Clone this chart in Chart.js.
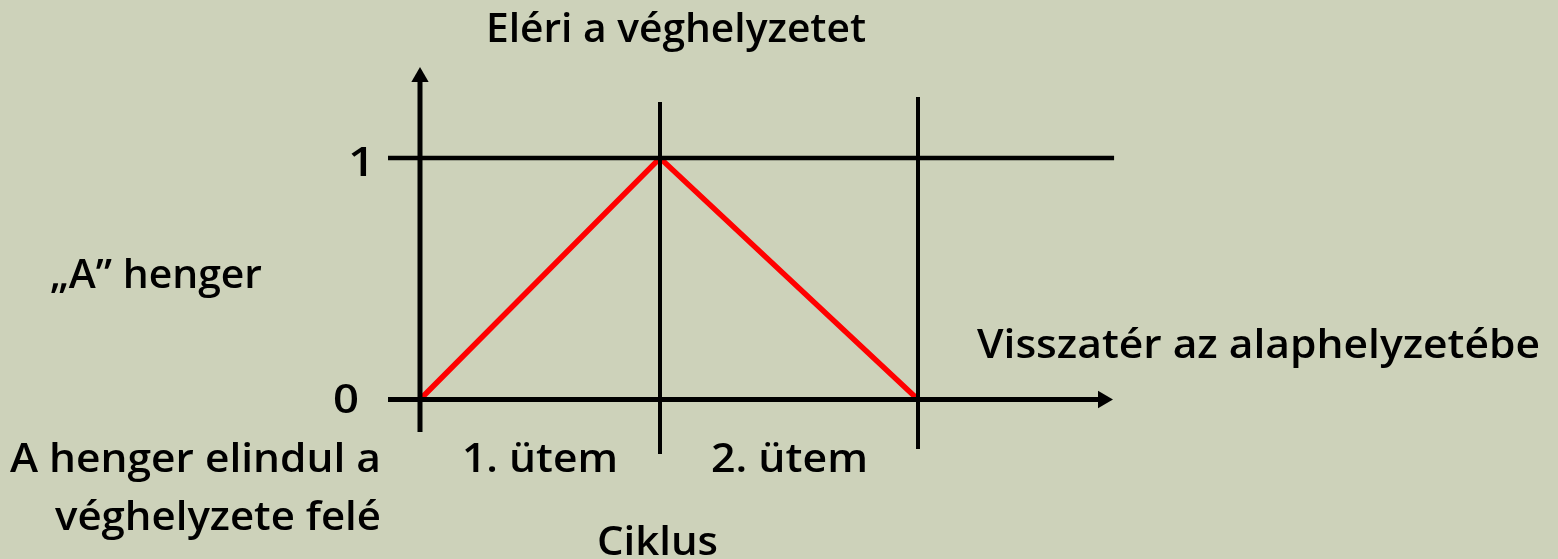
<!DOCTYPE html>
<html>
<head>
<meta charset="utf-8">
<script src="https://cdn.jsdelivr.net/npm/chart.js@4.4.1/dist/chart.umd.min.js"></script>
<style>
  html, body { margin: 0; padding: 0; background: #CDD2BA; }
  #wrap { width: 1558px; height: 559px; }
</style>
</head>
<body>
<div id="wrap"><canvas id="c" width="1558" height="559"></canvas></div>
<script>
// ---- data ----
const phaseX = [0, 1, 2.075];          // cycle step boundaries (start, end of step 1, end of step 2)
const stateA = [0, 1, 0];              // position of cylinder "A" at those instants
const yTickLabels = ['0', '1'];
const phaseLabels = ['1. ütem', '2. ütem'];
const stateLabels = ['A henger elindul a\nvéghelyzete felé', 'Eléri a véghelyzetet', 'Visszatér az alaphelyzetébe'];
const axisTitleY = '„A” henger';
const axisTitleX = 'Ciklus';

// ---- layout (pixels / extents, not data) ----
const PX_X = 240, X0 = 420;      // px per x unit, px of x=0
const PX_Y = 241.5, Y0 = 399.5;  // px per y unit, px of y=0
const W = 1558, H = 559;
const ext = {
  hLeft: -0.1333,
  h1Right: 2.892,
  h0ArrowCenter: 2.8458,
  yAxisBottom: -0.1346,
  yArrowCenter: 1.3354,
  v1Top: 1.232, v1Bottom: -0.2257,
  v2Top: 1.2526, v2Bottom: -0.205
};
const BLACK = '#000000', RED = '#FF0000';
const FONT = '600 39px "Open Sans", Roboto, "Liberation Sans", sans-serif';

function seg(data, width, color, arrowAt, rotation) {
  return {
    data: data,
    borderColor: color,
    backgroundColor: color,
    borderWidth: width,
    showLine: true,
    fill: false,
    tension: 0,
    borderCapStyle: 'butt',
    pointRadius: data.map((p, i) => (arrowAt === i ? 10 : 0)),
    pointStyle: 'triangle',
    rotation: rotation || 0,
    pointBorderWidth: 0,
    pointBackgroundColor: color
  };
}

const datasets = [
  seg([{x: phaseX[0], y: ext.yAxisBottom}, {x: phaseX[0], y: ext.yArrowCenter}], 5, BLACK, 1, 0),
  seg([{x: ext.hLeft, y: stateA[1]}, {x: ext.h1Right, y: stateA[1]}], 4.5, BLACK),
  seg([{x: ext.hLeft, y: stateA[0]}, {x: ext.h0ArrowCenter, y: stateA[0]}], 5, BLACK, 1, 90),
  seg([{x: phaseX[1], y: ext.v1Top}, {x: phaseX[1], y: ext.v1Bottom}], 4, BLACK),
  seg([{x: phaseX[2], y: ext.v2Top}, {x: phaseX[2], y: ext.v2Bottom}], 4, BLACK),
  seg(phaseX.map((x, i) => ({x: x, y: stateA[i]})), 5.5, RED)
];

// draw text with its left edge at `left` and stretched to `width`
function drawFit(ctx, text, left, baseline, width) {
  const m = ctx.measureText(text).width;
  const s = width / m;
  ctx.save();
  ctx.translate(left, baseline);
  ctx.scale(s, 1);
  ctx.textAlign = 'left';
  ctx.fillText(text, 0, 0);
  ctx.restore();
}

const textPlugin = {
  id: 'texts',
  beforeDraw(chart) {
    const ctx = chart.ctx;
    ctx.save();
    ctx.fillStyle = '#CDD2BA';
    ctx.fillRect(0, 0, chart.width, chart.height);
    ctx.restore();
  },
  afterDraw(chart) {
    const ctx = chart.ctx;
    const ys = chart.scales.y;
    ctx.save();
    ctx.fillStyle = '#000';
    ctx.font = FONT;
    ctx.textBaseline = 'alphabetic';
    const lines = stateLabels[0].split('\n');
    drawFit(ctx, yTickLabels[1], 348, ys.getPixelForValue(1) + 18, 27);
    drawFit(ctx, yTickLabels[0], 333, ys.getPixelForValue(0) + 13, 26);
    drawFit(ctx, stateLabels[1], 486, 42, 380);
    drawFit(ctx, stateLabels[2], 977, 358, 563);
    drawFit(ctx, axisTitleY, 50, 288, 212);
    drawFit(ctx, lines[0], 10, 472, 371);
    drawFit(ctx, lines[1], 55, 530, 326);
    drawFit(ctx, phaseLabels[0], 462, 472, 156);
    drawFit(ctx, phaseLabels[1], 711, 472, 157);
    drawFit(ctx, axisTitleX, 597, 555, 121);
    ctx.restore();
  }
};

new Chart(document.getElementById('c'), {
  type: 'scatter',
  data: { datasets: datasets },
  options: {
    responsive: false,
    animation: false,
    layout: { padding: 0, autoPadding: false },
    plugins: { legend: { display: false }, tooltip: { enabled: false } },
    scales: {
      x: { type: 'linear', display: false, min: -X0 / PX_X, max: (W - X0) / PX_X },
      y: { type: 'linear', display: false, min: -(H - Y0) / PX_Y, max: Y0 / PX_Y }
    },
    elements: { point: { hoverRadius: 0 } }
  },
  plugins: [textPlugin]
});
</script>
</body>
</html>
